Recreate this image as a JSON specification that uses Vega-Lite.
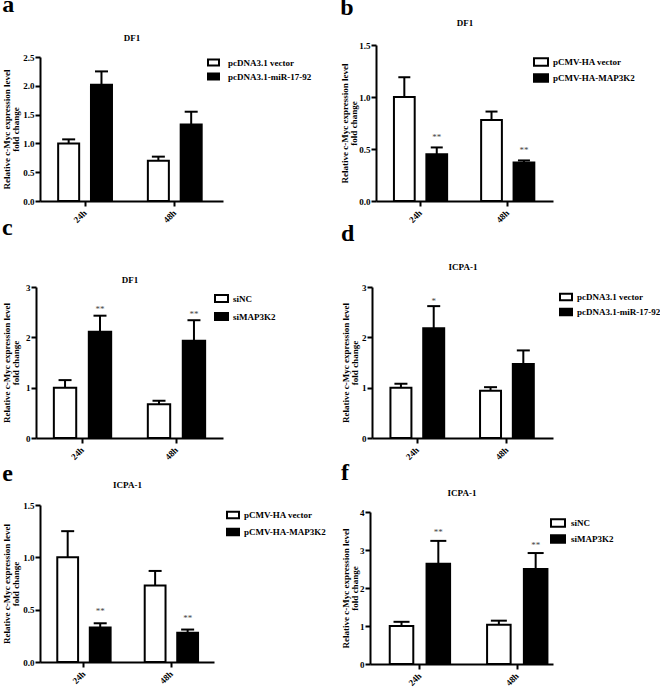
{
 "$schema": "https://vega.github.io/schema/vega-lite/v6.json",
 "background": "white",
 "padding": {"left": 2, "top": -7, "right": 0, "bottom": 0},
 "columns": 2,
 "spacing": {"row": 67, "column": 147},
 "bounds": "flush",
 "align": "none",
 "resolve": {"scale": {"x": "independent", "y": "independent", "fill": "independent", "xOffset": "independent"}, "legend": {"fill": "independent"}, "axis": {"x": "independent", "y": "independent"}},
 "concat": [
  {
   "title": {"text": "a", "offset": 16},
   "width": 187, "height": 156,
   "data": {"values": [
     {"time": "24h", "group": "pcDNA3.1 vector", "value": 1.0, "upper": 1.07, "sig": ""},
     {"time": "24h", "group": "pcDNA3.1-miR-17-92", "value": 2.02, "upper": 2.25, "sig": ""},
     {"time": "48h", "group": "pcDNA3.1 vector", "value": 0.70, "upper": 0.77, "sig": ""},
     {"time": "48h", "group": "pcDNA3.1-miR-17-92", "value": 1.33, "upper": 1.55, "sig": ""}
   ]},
   "resolve": {"axis": {"x": "independent"}},
   "layer": [
    {"mark": {"type": "bar", "stroke": "black", "strokeWidth": 2},
     "encoding": {
      "x": {"field": "time", "type": "nominal", "scale": {"range": [4, 187], "paddingInner": 0.4, "paddingOuter": 0.22, "align": 0.46}, "axis": {"orient": "bottom", "title": null, "labelAngle": -45}},
      "xOffset": {"field": "group", "type": "nominal", "scale": {"domain": ["pcDNA3.1 vector", "pcDNA3.1-miR-17-92"], "paddingInner": 0.36, "paddingOuter": 0}},
      "y": {"field": "value", "type": "quantitative", "scale": {"domain": [0, 2.5], "range": [156, 12], "nice": false}, "axis": {"values": [0, 0.5, 1, 1.5, 2, 2.5], "format": ".1f", "offset": -4, "titlePadding": 2, "labelOverlap": false}, "title": ["Relative c-Myc expression level", "fold change"]},
      "fill": {"field": "group", "type": "nominal", "scale": {"domain": ["pcDNA3.1 vector", "pcDNA3.1-miR-17-92"], "range": ["white", "black"]}, "legend": {"orient": "none", "legendX": 171, "legendY": 11, "symbolSize": 121, "rowPadding": -1, "labelOffset": 8, "title": null}}
     }},
    {"mark": {"type": "rule", "strokeWidth": 2, "color": "black"},
     "encoding": {
      "x": {"field": "time", "type": "nominal", "axis": {"orient": "top", "title": "DF1", "labels": false, "ticks": false, "domain": false, "offset": -12, "titlePadding": 15}},
      "xOffset": {"field": "group", "type": "nominal"},
      "y": {"field": "value", "type": "quantitative", "axis": {"values": [0, 0.5, 1, 1.5, 2, 2.5], "format": ".1f", "offset": -4, "titlePadding": 2, "labelOverlap": false}, "title": ["Relative c-Myc expression level", "fold change"]},
      "y2": {"field": "upper"}
     }},
    {"mark": {"type": "tick", "size": 13, "thickness": 2, "color": "black", "opacity": 1},
     "encoding": {
      "x": {"field": "time", "type": "nominal", "axis": null},
      "xOffset": {"field": "group", "type": "nominal"},
      "y": {"field": "upper", "type": "quantitative", "axis": {"values": [0, 0.5, 1, 1.5, 2, 2.5], "format": ".1f", "offset": -4, "titlePadding": 2, "labelOverlap": false}, "title": ["Relative c-Myc expression level", "fold change"]}
     }}
   ]
  },
  {
   "title": {"text": "b", "offset": -2},
   "width": 183, "height": 156,
   "data": {"values": [
     {"time": "24h", "group": "pCMV-HA vector", "value": 1.0, "upper": 1.19, "sig": ""},
     {"time": "24h", "group": "pCMV-HA-MAP3K2", "value": 0.45, "upper": 0.515, "sig": "**"},
     {"time": "48h", "group": "pCMV-HA vector", "value": 0.78, "upper": 0.86, "sig": ""},
     {"time": "48h", "group": "pCMV-HA-MAP3K2", "value": 0.37, "upper": 0.39, "sig": "**"}
   ]},
   "resolve": {"axis": {"x": "independent"}},
   "layer": [
    {"mark": {"type": "bar", "stroke": "black", "strokeWidth": 2},
     "encoding": {
      "x": {"field": "time", "type": "nominal", "scale": {"range": [6, 183], "paddingInner": 0.39, "paddingOuter": 0.21, "align": 0.49}, "axis": {"orient": "bottom", "title": null, "labelAngle": -45}},
      "xOffset": {"field": "group", "type": "nominal", "scale": {"domain": ["pCMV-HA vector", "pCMV-HA-MAP3K2"], "paddingInner": 0.36, "paddingOuter": 0}},
      "y": {"field": "value", "type": "quantitative", "scale": {"domain": [0, 1.5], "range": [156, 0], "nice": false}, "axis": {"values": [0, 0.5, 1, 1.5], "format": ".1f", "offset": -6, "titlePadding": 0, "labelOverlap": false}, "title": ["Relative c-Myc expression level", "fold change"]},
      "fill": {"field": "group", "type": "nominal", "scale": {"domain": ["pCMV-HA vector", "pCMV-HA-MAP3K2"], "range": ["white", "black"]}, "legend": {"orient": "none", "legendX": 163, "legendY": 9, "symbolSize": 196, "rowPadding": 0, "labelOffset": 4, "title": null}}
     }},
    {"mark": {"type": "rule", "strokeWidth": 2, "color": "black"},
     "encoding": {
      "x": {"field": "time", "type": "nominal", "axis": {"orient": "top", "title": "DF1", "labels": false, "ticks": false, "domain": false, "offset": 0, "titlePadding": 18}},
      "xOffset": {"field": "group", "type": "nominal"},
      "y": {"field": "value", "type": "quantitative", "axis": {"values": [0, 0.5, 1, 1.5], "format": ".1f", "offset": -6, "titlePadding": 0, "labelOverlap": false}, "title": ["Relative c-Myc expression level", "fold change"]},
      "y2": {"field": "upper"}
     }},
    {"mark": {"type": "tick", "size": 12, "thickness": 2, "color": "black", "opacity": 1},
     "encoding": {
      "x": {"field": "time", "type": "nominal", "axis": null},
      "xOffset": {"field": "group", "type": "nominal"},
      "y": {"field": "upper", "type": "quantitative", "axis": {"values": [0, 0.5, 1, 1.5], "format": ".1f", "offset": -6, "titlePadding": 0, "labelOverlap": false}, "title": ["Relative c-Myc expression level", "fold change"]}
     }},
    {"mark": {"type": "text", "dy": -10, "fontSize": 9, "color": "#444"},
     "encoding": {
      "x": {"field": "time", "type": "nominal", "axis": null},
      "xOffset": {"field": "group", "type": "nominal"},
      "y": {"field": "upper", "type": "quantitative", "axis": {"values": [0, 0.5, 1, 1.5], "format": ".1f", "offset": -6, "titlePadding": 0, "labelOverlap": false}, "title": ["Relative c-Myc expression level", "fold change"]},
      "text": {"field": "sig"}
     }}
   ]
  },
  {
   "title": {"text": "c", "offset": 28},
   "width": 187, "height": 170,
   "data": {"values": [
     {"time": "24h", "group": "siNC", "value": 1.0, "upper": 1.15, "sig": ""},
     {"time": "24h", "group": "siMAP3K2", "value": 2.11, "upper": 2.43, "sig": "**"},
     {"time": "48h", "group": "siNC", "value": 0.67, "upper": 0.74, "sig": ""},
     {"time": "48h", "group": "siMAP3K2", "value": 1.93, "upper": 2.34, "sig": "**"}
   ]},
   "resolve": {"axis": {"x": "independent"}},
   "layer": [
    {"mark": {"type": "bar", "stroke": "black", "strokeWidth": 2},
     "encoding": {
      "x": {"field": "time", "type": "nominal", "scale": {"range": [0, 187], "paddingInner": 0.39, "paddingOuter": 0.19, "align": 0.5}, "axis": {"orient": "bottom", "title": null, "labelAngle": -45}},
      "xOffset": {"field": "group", "type": "nominal", "scale": {"domain": ["siNC", "siMAP3K2"], "paddingInner": 0.36, "paddingOuter": 0}},
      "y": {"field": "value", "type": "quantitative", "scale": {"domain": [0, 3], "range": [170, 19], "nice": false}, "axis": {"values": [0, 1, 2, 3], "format": "d", "offset": 0, "titlePadding": 5, "labelOverlap": false}, "title": ["Relative c-Myc expression level", "fold change"]},
      "fill": {"field": "group", "type": "nominal", "scale": {"domain": ["siNC", "siMAP3K2"], "range": ["white", "black"]}, "legend": {"orient": "none", "legendX": 178, "legendY": 23, "symbolSize": 169, "rowPadding": 1, "labelOffset": 4, "title": null}}
     }},
    {"mark": {"type": "rule", "strokeWidth": 2, "color": "black"},
     "encoding": {
      "x": {"field": "time", "type": "nominal", "axis": {"orient": "top", "title": "DF1", "labels": false, "ticks": false, "domain": false, "offset": -19, "titlePadding": 3}},
      "xOffset": {"field": "group", "type": "nominal"},
      "y": {"field": "value", "type": "quantitative", "axis": {"values": [0, 1, 2, 3], "format": "d", "offset": 0, "titlePadding": 5, "labelOverlap": false}, "title": ["Relative c-Myc expression level", "fold change"]},
      "y2": {"field": "upper"}
     }},
    {"mark": {"type": "tick", "size": 13, "thickness": 2, "color": "black", "opacity": 1},
     "encoding": {
      "x": {"field": "time", "type": "nominal", "axis": null},
      "xOffset": {"field": "group", "type": "nominal"},
      "y": {"field": "upper", "type": "quantitative", "axis": {"values": [0, 1, 2, 3], "format": "d", "offset": 0, "titlePadding": 5, "labelOverlap": false}, "title": ["Relative c-Myc expression level", "fold change"]}
     }},
    {"mark": {"type": "text", "dy": -6.5, "fontSize": 9, "color": "#444"},
     "encoding": {
      "x": {"field": "time", "type": "nominal", "axis": null},
      "xOffset": {"field": "group", "type": "nominal"},
      "y": {"field": "upper", "type": "quantitative", "axis": {"values": [0, 1, 2, 3], "format": "d", "offset": 0, "titlePadding": 5, "labelOverlap": false}, "title": ["Relative c-Myc expression level", "fold change"]},
      "text": {"field": "sig"}
     }}
   ]
  },
  {
   "title": {"text": "d", "offset": 16},
   "width": 183, "height": 170,
   "data": {"values": [
     {"time": "24h", "group": "pcDNA3.1 vector", "value": 1.0, "upper": 1.08, "sig": ""},
     {"time": "24h", "group": "pcDNA3.1-miR-17-92", "value": 2.18, "upper": 2.62, "sig": "*"},
     {"time": "48h", "group": "pcDNA3.1 vector", "value": 0.94, "upper": 1.01, "sig": ""},
     {"time": "48h", "group": "pcDNA3.1-miR-17-92", "value": 1.47, "upper": 1.74, "sig": ""}
   ]},
   "resolve": {"axis": {"x": "independent"}},
   "layer": [
    {"mark": {"type": "bar", "stroke": "black", "strokeWidth": 2},
     "encoding": {
      "x": {"field": "time", "type": "nominal", "scale": {"range": [2, 183], "paddingInner": 0.4, "paddingOuter": 0.21, "align": 0.49}, "axis": {"orient": "bottom", "title": null, "labelAngle": -45}},
      "xOffset": {"field": "group", "type": "nominal", "scale": {"domain": ["pcDNA3.1 vector", "pcDNA3.1-miR-17-92"], "paddingInner": 0.36, "paddingOuter": 0}},
      "y": {"field": "value", "type": "quantitative", "scale": {"domain": [0, 3], "range": [170, 19], "nice": false}, "axis": {"values": [0, 1, 2, 3], "format": "d", "offset": -2, "titlePadding": 2, "labelOverlap": false}, "title": ["Relative c-Myc expression level", "fold change"]},
      "fill": {"field": "group", "type": "nominal", "scale": {"domain": ["pcDNA3.1 vector", "pcDNA3.1-miR-17-92"], "range": ["white", "black"]}, "legend": {"orient": "none", "legendX": 189, "legendY": 22, "symbolSize": 144, "rowPadding": -1, "labelOffset": 4, "title": null}}
     }},
    {"mark": {"type": "rule", "strokeWidth": 2, "color": "black"},
     "encoding": {
      "x": {"field": "time", "type": "nominal", "axis": {"orient": "top", "title": "ICPA-1", "labels": false, "ticks": false, "domain": false, "offset": -19, "titlePadding": 16}},
      "xOffset": {"field": "group", "type": "nominal"},
      "y": {"field": "value", "type": "quantitative", "axis": {"values": [0, 1, 2, 3], "format": "d", "offset": -2, "titlePadding": 2, "labelOverlap": false}, "title": ["Relative c-Myc expression level", "fold change"]},
      "y2": {"field": "upper"}
     }},
    {"mark": {"type": "tick", "size": 13, "thickness": 2, "color": "black", "opacity": 1},
     "encoding": {
      "x": {"field": "time", "type": "nominal", "axis": null},
      "xOffset": {"field": "group", "type": "nominal"},
      "y": {"field": "upper", "type": "quantitative", "axis": {"values": [0, 1, 2, 3], "format": "d", "offset": -2, "titlePadding": 2, "labelOverlap": false}, "title": ["Relative c-Myc expression level", "fold change"]}
     }},
    {"mark": {"type": "text", "dy": -5.5, "fontSize": 9, "color": "#444"},
     "encoding": {
      "x": {"field": "time", "type": "nominal", "axis": null},
      "xOffset": {"field": "group", "type": "nominal"},
      "y": {"field": "upper", "type": "quantitative", "axis": {"values": [0, 1, 2, 3], "format": "d", "offset": -2, "titlePadding": 2, "labelOverlap": false}, "title": ["Relative c-Myc expression level", "fold change"]},
      "text": {"field": "sig"}
     }}
   ]
  },
  {
   "title": {"text": "e", "offset": -6},
   "width": 187, "height": 157,
   "data": {"values": [
     {"time": "24h", "group": "pCMV-HA vector", "value": 1.0, "upper": 1.25, "sig": ""},
     {"time": "24h", "group": "pCMV-HA-MAP3K2", "value": 0.33, "upper": 0.37, "sig": "**"},
     {"time": "48h", "group": "pCMV-HA vector", "value": 0.73, "upper": 0.87, "sig": ""},
     {"time": "48h", "group": "pCMV-HA-MAP3K2", "value": 0.28, "upper": 0.31, "sig": "**"}
   ]},
   "resolve": {"axis": {"x": "independent"}},
   "layer": [
    {"mark": {"type": "bar", "stroke": "black", "strokeWidth": 2},
     "encoding": {
      "x": {"field": "time", "type": "nominal", "scale": {"range": [4, 178], "paddingInner": 0.39, "paddingOuter": 0.19, "align": 0.52}, "axis": {"orient": "bottom", "title": null, "labelAngle": -45}},
      "xOffset": {"field": "group", "type": "nominal", "scale": {"domain": ["pCMV-HA vector", "pCMV-HA-MAP3K2"], "paddingInner": 0.36, "paddingOuter": 0}},
      "y": {"field": "value", "type": "quantitative", "scale": {"domain": [0, 1.5], "range": [157, 0], "nice": false}, "axis": {"values": [0, 0.5, 1, 1.5], "format": ".1f", "offset": -4, "titlePadding": 2, "labelOverlap": false}, "title": ["Relative c-Myc expression level", "fold change"]},
      "fill": {"field": "group", "type": "nominal", "scale": {"domain": ["pCMV-HA vector", "pCMV-HA-MAP3K2"], "range": ["white", "black"]}, "legend": {"orient": "none", "legendX": 190, "legendY": 3, "symbolSize": 144, "rowPadding": 1, "labelOffset": 4, "title": null}}
     }},
    {"mark": {"type": "rule", "strokeWidth": 2, "color": "black"},
     "encoding": {
      "x": {"field": "time", "type": "nominal", "axis": {"orient": "top", "title": "ICPA-1", "labels": false, "ticks": false, "domain": false, "offset": 0, "titlePadding": 16}},
      "xOffset": {"field": "group", "type": "nominal"},
      "y": {"field": "value", "type": "quantitative", "axis": {"values": [0, 0.5, 1, 1.5], "format": ".1f", "offset": -4, "titlePadding": 2, "labelOverlap": false}, "title": ["Relative c-Myc expression level", "fold change"]},
      "y2": {"field": "upper"}
     }},
    {"mark": {"type": "tick", "size": 13, "thickness": 2, "color": "black", "opacity": 1},
     "encoding": {
      "x": {"field": "time", "type": "nominal", "axis": null},
      "xOffset": {"field": "group", "type": "nominal"},
      "y": {"field": "upper", "type": "quantitative", "axis": {"values": [0, 0.5, 1, 1.5], "format": ".1f", "offset": -4, "titlePadding": 2, "labelOverlap": false}, "title": ["Relative c-Myc expression level", "fold change"]}
     }},
    {"mark": {"type": "text", "dy": -12, "fontSize": 9, "color": "#444"},
     "encoding": {
      "x": {"field": "time", "type": "nominal", "axis": null},
      "xOffset": {"field": "group", "type": "nominal"},
      "y": {"field": "upper", "type": "quantitative", "axis": {"values": [0, 0.5, 1, 1.5], "format": ".1f", "offset": -4, "titlePadding": 2, "labelOverlap": false}, "title": ["Relative c-Myc expression level", "fold change"]},
      "text": {"field": "sig"}
     }}
   ]
  },
  {
   "title": {"text": "f", "offset": 3},
   "width": 183, "height": 159,
   "data": {"values": [
     {"time": "24h", "group": "siNC", "value": 1.0, "upper": 1.11, "sig": ""},
     {"time": "24h", "group": "siMAP3K2", "value": 2.64, "upper": 3.24, "sig": "**"},
     {"time": "48h", "group": "siNC", "value": 1.03, "upper": 1.14, "sig": ""},
     {"time": "48h", "group": "siMAP3K2", "value": 2.5, "upper": 2.92, "sig": "**"}
   ]},
   "resolve": {"axis": {"x": "independent"}},
   "layer": [
    {"mark": {"type": "bar", "stroke": "black", "strokeWidth": 2},
     "encoding": {
      "x": {"field": "time", "type": "nominal", "scale": {"range": [0, 183], "paddingInner": 0.38, "paddingOuter": 0.13, "align": 0.78}, "axis": {"orient": "bottom", "title": null, "labelAngle": -45}},
      "xOffset": {"field": "group", "type": "nominal", "scale": {"domain": ["siNC", "siMAP3K2"], "paddingInner": 0.36, "paddingOuter": 0}},
      "y": {"field": "value", "type": "quantitative", "scale": {"domain": [0, 4], "range": [159, 7], "nice": false}, "axis": {"values": [0, 1, 2, 3, 4], "format": "d", "offset": 0, "titlePadding": 0, "labelOverlap": false}, "title": ["Relative c-Myc expression level", "fold change"]},
      "fill": {"field": "group", "type": "nominal", "scale": {"domain": ["siNC", "siMAP3K2"], "range": ["white", "black"]}, "legend": {"orient": "none", "legendX": 180, "legendY": 10, "symbolSize": 196, "rowPadding": -3, "labelOffset": 5, "title": null}}
     }},
    {"mark": {"type": "rule", "strokeWidth": 2, "color": "black"},
     "encoding": {
      "x": {"field": "time", "type": "nominal", "axis": {"orient": "top", "title": "ICPA-1", "labels": false, "ticks": false, "domain": false, "offset": -7, "titlePadding": 15}},
      "xOffset": {"field": "group", "type": "nominal"},
      "y": {"field": "value", "type": "quantitative", "axis": {"values": [0, 1, 2, 3, 4], "format": "d", "offset": 0, "titlePadding": 0, "labelOverlap": false}, "title": ["Relative c-Myc expression level", "fold change"]},
      "y2": {"field": "upper"}
     }},
    {"mark": {"type": "tick", "size": 16, "thickness": 2, "color": "black", "opacity": 1},
     "encoding": {
      "x": {"field": "time", "type": "nominal", "axis": null},
      "xOffset": {"field": "group", "type": "nominal"},
      "y": {"field": "upper", "type": "quantitative", "axis": {"values": [0, 1, 2, 3, 4], "format": "d", "offset": 0, "titlePadding": 0, "labelOverlap": false}, "title": ["Relative c-Myc expression level", "fold change"]}
     }},
    {"mark": {"type": "text", "dy": -8.5, "fontSize": 9, "color": "#444"},
     "encoding": {
      "x": {"field": "time", "type": "nominal", "axis": null},
      "xOffset": {"field": "group", "type": "nominal"},
      "y": {"field": "upper", "type": "quantitative", "axis": {"values": [0, 1, 2, 3, 4], "format": "d", "offset": 0, "titlePadding": 0, "labelOverlap": false}, "title": ["Relative c-Myc expression level", "fold change"]},
      "text": {"field": "sig"}
     }}
   ]
  }
 ],
 "config": {
  "font": "Liberation Serif",
  "view": {"stroke": null},
  "axis": {"labelFont": "Liberation Serif", "labelFontWeight": "bold", "labelFontSize": 9, "labelColor": "black", "titleFont": "Liberation Serif", "titleFontWeight": "bold", "titleFontSize": 9, "titleColor": "black", "domainColor": "black", "domainWidth": 2, "tickColor": "black", "tickWidth": 2, "tickSize": 5, "grid": false, "labelPadding": 1, "titleLineHeight": 9.5, "labelOverlap": false},
  "axisX": {"labelPadding": 5, "labelAlign": "right", "labelBaseline": "middle"},
  "legend": {"labelFont": "Liberation Serif", "labelFontWeight": "bold", "labelFontSize": 9, "labelColor": "black", "symbolStrokeColor": "black", "symbolStrokeWidth": 2, "symbolType": "M-1,-0.55H1V0.55H-1Z", "padding": 0},
  "title": {"font": "Liberation Serif", "fontWeight": "bold", "fontSize": 24, "anchor": "start", "frame": "bounds", "color": "black"}
 }
}
